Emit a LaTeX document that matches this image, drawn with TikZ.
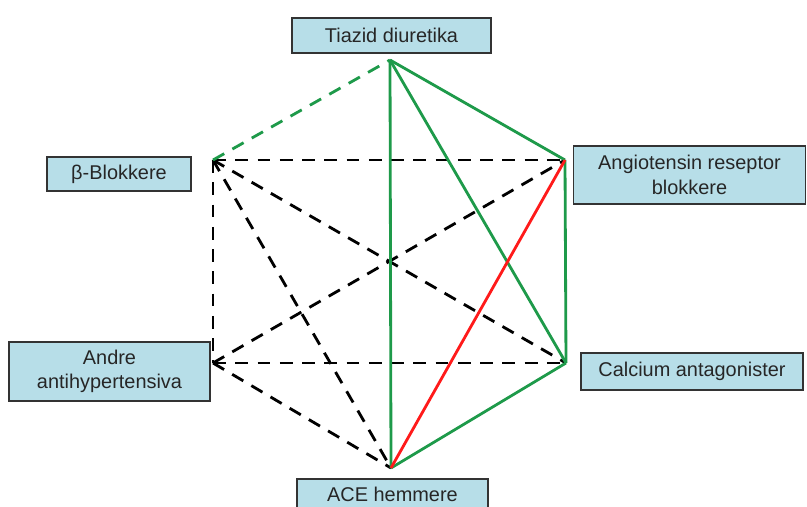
\documentclass[tikz,border=0pt]{standalone}
\usepackage{fontspec}
\setmainfont{Liberation Sans}
\usetikzlibrary{positioning}
\definecolor{boxBlue}{HTML}{B7DEE8}
\definecolor{linkGreen}{HTML}{1E9A4A}
\definecolor{linkRed}{HTML}{FF1A1A}

\begin{document}
\begin{tikzpicture}[x=0.03cm, y=-0.03cm,
    drug/.style={draw=black!80, fill=boxBlue, line width=1.1pt, align=center,
      font=\fontsize{17}{21}\selectfont, text=black!85, inner sep=0pt},
    good/.style={linkGreen, line width=2.4pt},
    maybe/.style={linkGreen, line width=2.4pt, dash pattern=on 11pt off 8pt},
    weak/.style={black, line width=2.4pt, dash pattern=on 11pt off 8pt},
    bad/.style={linkRed, line width=2.4pt}]
    \clip (0,0) rectangle (807,507);
    % corners of the hexagon
    \coordinate (tia) at (390,60);
    \coordinate (ang) at (565,160);
    \coordinate (cal) at (566,363);
    \coordinate (ace) at (391,468);
    \coordinate (and) at (213,363);
    \coordinate (bet) at (213,160);
    % drug classes
    \node[drug, minimum width=199*0.03cm, minimum height=35*0.03cm] (tiaBox) at (391.5,35.5) {Tiazid diuretika};
    \node[drug, minimum width=144*0.03cm, minimum height=34*0.03cm] (betBox) at (119,174) {β-Blokkere};
    \node[drug, minimum width=232*0.03cm, minimum height=58*0.03cm] (angBox) at (689.5,175) {Angiotensin reseptor\\blokkere};
    \node[drug, minimum width=201*0.03cm, minimum height=59*0.03cm] (andBox) at (109.5,371.5) {Andre\\antihypertensiva};
    \node[drug, minimum width=222*0.03cm, minimum height=37*0.03cm] (calBox) at (692,371.5) {Calcium antagonister};
    \node[drug, minimum width=191*0.03cm, minimum height=30*0.03cm] (aceBox) at (392.5,494) {ACE hemmere};
    % combinations
    \foreach \x/\y in {bet/ang,bet/cal,bet/ace,bet/and,and/ang,and/cal,and/ace}
      \draw[weak] (\x)--(\y);
    \draw[maybe] (bet)--(tia);
    \foreach \x/\y in {tia/ang,tia/ace,tia/cal,ang/cal,cal/ace}
      \draw[good] (\x)--(\y);
    \draw[bad] (ang)--(ace);
  \end{tikzpicture}
\end{document}
